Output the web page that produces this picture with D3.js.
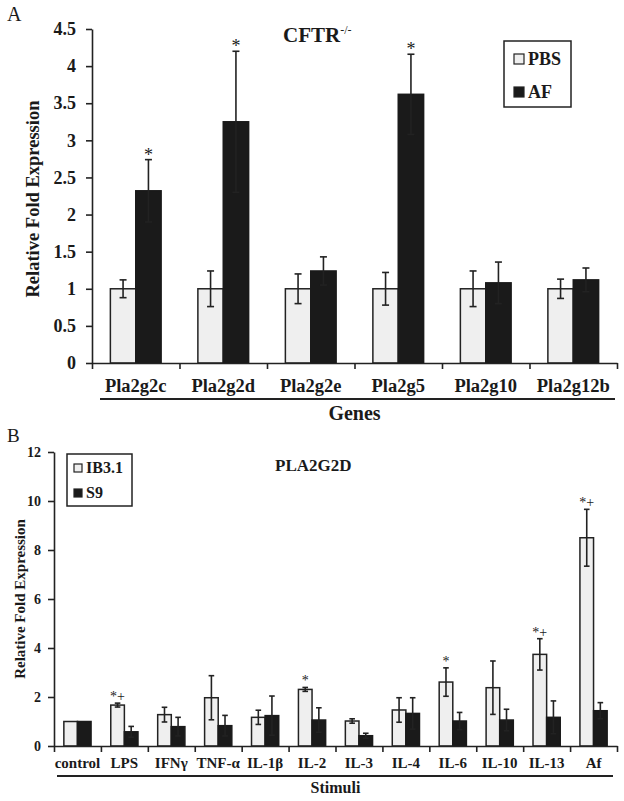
<!DOCTYPE html>
<html>
<head>
<meta charset="utf-8">
<script src="https://cdn.jsdelivr.net/npm/d3@7"></script>
<style>
  body { margin: 0; background: #fff; }
  text { font-family: "Liberation Serif", "Times New Roman", serif; fill: #1a1a1a; }
</style>
</head>
<body>
<div id="chart"></div>
<script>
// panel A data
let genes = ["Pla2g2c", "Pla2g2d", "Pla2g2e", "Pla2g5", "Pla2g10", "Pla2g12b"];
let pbsMean = [1, 1, 1, 1, 1, 1];
let pbsErr = [0.12, 0.24, 0.2, 0.22, 0.24, 0.13];
let afMean = [2.32, 3.25, 1.24, 3.62, 1.08, 1.12];
let afErr = [0.42, 0.95, 0.19, 0.54, 0.28, 0.16];
let afSig = ["*", "*", "", "*", "", ""];
let ticksA = [0, 0.5, 1, 1.5, 2, 2.5, 3, 3.5, 4, 4.5];

// panel B data
let stimuli = ["control", "LPS", "IFNγ", "TNF-α", "IL-1β", "IL-2", "IL-3", "IL-4", "IL-6", "IL-10", "IL-13", "Af"];
let ib31Mean = [1.0, 1.67, 1.28, 1.97, 1.17, 2.31, 1.02, 1.47, 2.61, 2.38, 3.74, 8.5];
let ib31Err = [0, 0.08, 0.3, 0.9, 0.29, 0.08, 0.09, 0.5, 0.58, 1.09, 0.64, 1.16];
let s9Mean = [1.0, 0.58, 0.79, 0.83, 1.24, 1.06, 0.42, 1.33, 1.02, 1.06, 1.17, 1.44];
let s9Err = [0, 0.22, 0.38, 0.42, 0.8, 0.5, 0.1, 0.64, 0.35, 0.44, 0.67, 0.33];
let ib31Sig = ["", "*+", "", "", "", "*", "", "", "*", "", "*+", "*+"];
let ticksB = [0, 2, 4, 6, 8, 10, 12];

const LIGHT = "#efefef", DARK = "#1a1a1a", INK = "#222";

let svg = d3.select("#chart")
    .append("svg")
    .attr("width", 624)
    .attr("height", 801);

// draws one grouped bar panel with error bars
function drawPanel(cfg) {
    let g = svg.append("g");
    let x = d3.scaleBand().domain(cfg.cats).range([cfg.x0, cfg.x1]);
    let y = d3.scaleLinear().domain([0, cfg.ymax]).range([cfg.y0, cfg.ytop]);
    let bw = x.bandwidth() * 0.29;

    let series = [
        { mean: cfg.m1, err: cfg.e1, fill: LIGHT, off: -bw },
        { mean: cfg.m2, err: cfg.e2, fill: DARK, off: 0 }
    ];

    series.forEach(s => {
        let data = cfg.cats.map((c, i) => ({ c: c, v: s.mean[i], e: s.err[i] }));
        let cx = d => x(d.c) + x.bandwidth() / 2 + s.off;
        g.selectAll(null).data(data).enter()
            .append("rect")
            .attr("x", cx)
            .attr("y", d => y(d.v))
            .attr("width", bw)
            .attr("height", d => y(0) - y(d.v))
            .attr("fill", s.fill)
            .attr("stroke", s.fill == LIGHT ? INK : DARK)
            .attr("stroke-width", 1.5);
        let eb = g.selectAll(null).data(data.filter(d => d.e > 0)).enter().append("g")
            .attr("stroke", INK).attr("stroke-width", 1.6);
        eb.append("line")
            .attr("x1", d => cx(d) + bw / 2).attr("x2", d => cx(d) + bw / 2)
            .attr("y1", d => y(d.v - d.e)).attr("y2", d => y(d.v + d.e));
        [1, -1].forEach(sg => {
            eb.append("line")
                .attr("x1", d => cx(d) + bw / 2 - cfg.cap).attr("x2", d => cx(d) + bw / 2 + cfg.cap)
                .attr("y1", d => y(d.v + sg * d.e)).attr("y2", d => y(d.v + sg * d.e));
        });
    });

    // significance marks
    let sigData = cfg.cats.map((c, i) => ({ c: c, s: cfg.sig[i], v: cfg.sigSeries[0][i] + cfg.sigSeries[1][i] }));
    g.selectAll(null).data(sigData.filter(d => d.s)).enter()
        .append("text")
        .attr("x", d => x(d.c) + x.bandwidth() / 2 + cfg.sigOff * bw)
        .attr("y", d => y(d.v) + cfg.sigDy)
        .attr("text-anchor", "middle")
        .style("font-size", cfg.sigSize + "px")
        .text(d => d.s);

    // y axis
    let yAxis = g.append("g")
        .attr("transform", `translate(${cfg.x0},0)`)
        .call(d3.axisLeft(y).tickValues(cfg.ticks).tickSize(6).tickSizeOuter(0).tickPadding(cfg.tickPad).tickFormat(d => String(d)));
    yAxis.select(".domain").attr("stroke", INK).attr("stroke-width", 1.6);
    yAxis.selectAll(".tick line").attr("stroke", INK).attr("stroke-width", 1.6);
    yAxis.selectAll(".tick text")
        .style("font-family", "Liberation Serif")
        .style("font-weight", "bold")
        .style("font-size", cfg.tickSize + "px")
        .attr("fill", DARK);

    // x axis: boundary ticks via an index scale, labels via band scale
    let xi = d3.scaleLinear().domain([0, cfg.cats.length]).range([cfg.x0, cfg.x1]);
    let xAxis = g.append("g")
        .attr("transform", `translate(0,${cfg.y0})`)
        .call(d3.axisBottom(xi).ticks(cfg.cats.length).tickSize(6).tickSizeOuter(0).tickFormat(""));
    xAxis.select(".domain").attr("stroke", INK).attr("stroke-width", 1.6);
    xAxis.selectAll(".tick line").attr("stroke", INK).attr("stroke-width", 1.6);

    g.selectAll(null).data(cfg.cats).enter()
        .append("text")
        .attr("x", d => x(d) + x.bandwidth() / 2)
        .attr("y", cfg.labelY)
        .attr("text-anchor", "middle")
        .style("font-weight", "bold")
        .style("font-size", cfg.labelSize + "px")
        .text(d => d);

    g.append("line")
        .attr("x1", cfg.ul[0]).attr("x2", cfg.ul[1])
        .attr("y1", cfg.ulY).attr("y2", cfg.ulY)
        .attr("stroke", INK).attr("stroke-width", 1.8);

    g.append("text")
        .attr("x", (cfg.x0 + cfg.x1) / 2)
        .attr("y", cfg.xTitleY)
        .attr("text-anchor", "middle")
        .style("font-weight", "bold")
        .style("font-size", cfg.xTitleSize + "px")
        .text(cfg.xTitle);

    g.append("text")
        .attr("transform", `translate(${cfg.yTitleX}, ${cfg.yTitleY}) rotate(-90)`)
        .attr("text-anchor", "middle")
        .style("font-weight", "bold")
        .style("font-size", cfg.yTitleSize + "px")
        .text("Relative Fold Expression");

    // legend
    let lg = g.append("g");
    lg.append("rect")
        .attr("x", cfg.leg.x).attr("y", cfg.leg.y)
        .attr("width", cfg.leg.w).attr("height", cfg.leg.h)
        .attr("fill", "none").attr("stroke", INK).attr("stroke-width", 1.5);
    cfg.leg.items.forEach((name, i) => {
        let yy = cfg.leg.y + cfg.leg.first + i * cfg.leg.step;
        lg.append("rect")
            .attr("x", cfg.leg.x + cfg.leg.pad).attr("y", yy - cfg.leg.sw)
            .attr("width", cfg.leg.sw).attr("height", cfg.leg.sw)
            .attr("fill", i == 0 ? LIGHT : DARK)
            .attr("stroke", INK).attr("stroke-width", 1.2);
        lg.append("text")
            .attr("x", cfg.leg.x + cfg.leg.pad + cfg.leg.sw + 4)
            .attr("y", yy + 1)
            .style("font-weight", "bold")
            .style("font-size", cfg.leg.size + "px")
            .text(name);
    });
    return g;
}

drawPanel({
    cats: genes, m1: pbsMean, e1: pbsErr, m2: afMean, e2: afErr,
    sig: afSig, sigSeries: [afMean, afErr], sigOff: 0.5, sigDy: 1, sigSize: 18,
    x0: 92, x1: 617, y0: 363, ytop: 29, ymax: 4.5, ticks: ticksA, cap: 3.5,
    tickSize: 18, tickPad: 10, labelY: 392, labelSize: 18.5,
    ul: [100, 615], ulY: 399, xTitle: "Genes", xTitleY: 420, xTitleSize: 20,
    yTitleX: 39, yTitleY: 199, yTitleSize: 18.5,
    leg: { x: 504, y: 41, w: 67, h: 66, items: ["PBS", "AF"], pad: 10, sw: 10, first: 23, step: 33, size: 18 }
});

drawPanel({
    cats: stimuli, m1: ib31Mean, e1: ib31Err, m2: s9Mean, e2: s9Err,
    sig: ib31Sig, sigSeries: [ib31Mean, ib31Err], sigOff: -0.5, sigDy: -2, sigSize: 14,
    x0: 54, x1: 617, y0: 746, ytop: 452, ymax: 12, ticks: ticksB, cap: 2.8,
    tickSize: 14, tickPad: 7, labelY: 768, labelSize: 15,
    ul: [57, 613], ulY: 776, xTitle: "Stimuli", xTitleY: 793, xTitleSize: 16,
    yTitleX: 25, yTitleY: 599, yTitleSize: 15,
    leg: { x: 67, y: 454, w: 65, h: 52, items: ["IB3.1", "S9"], pad: 7, sw: 8, first: 18, step: 25, size: 16 }
});

// panel letters and titles
svg.append("text").attr("x", 7).attr("y", 21).style("font-size", "20px").text("A");
svg.append("text").attr("x", 7).attr("y", 442).style("font-size", "19px").text("B");

let tA = svg.append("text").attr("x", 283).attr("y", 42)
    .style("font-weight", "bold").style("font-size", "21px");
tA.append("tspan").text("CFTR");
tA.append("tspan").attr("dy", -8).style("font-size", "12px").style("font-weight", "normal").text("-/-");

svg.append("text").attr("x", 275).attr("y", 471)
    .style("font-weight", "bold").style("font-size", "17px").text("PLA2G2D");
</script>
</body>
</html>
